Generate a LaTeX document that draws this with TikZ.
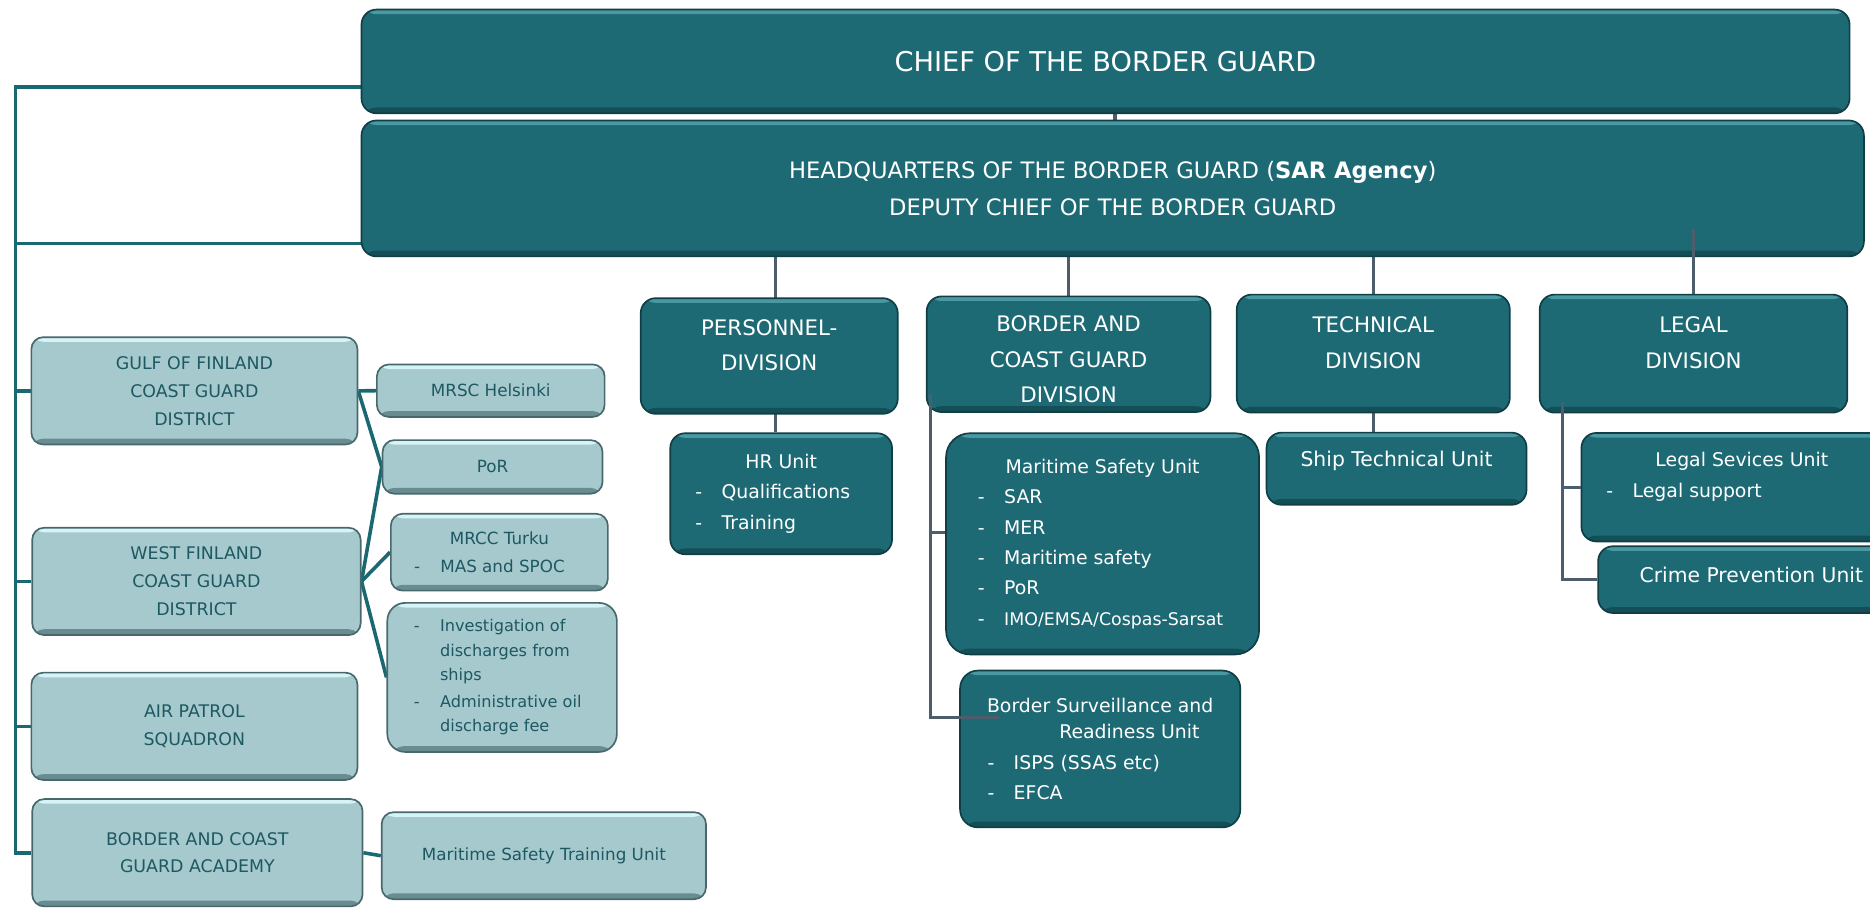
\documentclass[tikz,border=0pt]{standalone}
\usepackage{fontspec}
\setmainfont{DejaVu Sans}
\usepackage{xcolor}
\usepackage{tikz}
\usetikzlibrary{calc,backgrounds}

\definecolor{deepteal}{RGB}{29,106,117}
\definecolor{deepedge}{RGB}{16,62,69}
\definecolor{deeplight}{RGB}{74,152,162}
\definecolor{deepshade}{RGB}{20,78,86}
\definecolor{paleteal}{RGB}{165,201,205}
\definecolor{paleedge}{RGB}{72,104,109}
\definecolor{palelight}{RGB}{214,243,245}
\definecolor{paleshade}{RGB}{105,140,145}
\definecolor{inkteal}{RGB}{30,88,98}
\definecolor{linkteal}{RGB}{26,104,114}
\definecolor{linkslate}{RGB}{78,93,107}

% font sizes of the chart
\newcommand{\fchief}{\fontsize{13}{16}\selectfont}
\newcommand{\fhq}{\fontsize{10.8}{17.6}\selectfont}
\newcommand{\fdiv}{\fontsize{10.2}{17}\selectfont}
\newcommand{\funit}{\fontsize{9}{14.5}\selectfont}
\newcommand{\fship}{\fontsize{9.7}{14.5}\selectfont}
\newcommand{\fdist}{\fontsize{8.3}{13.3}\selectfont}
\newcommand{\fsub}{\fontsize{8}{13}\selectfont}
\newcommand{\fsmall}{\fontsize{7.7}{11.6}\selectfont}

% list lines inside the unit boxes
\newcommand{\dashitem}[2]{\makebox[#1][l]{\makebox[0.44cm][l]{-}#2}}
\newcommand{\moreitem}[2]{\makebox[#1][l]{\hspace{0.44cm}#2}}
% empty line that moves the text up or down in its box
\newcommand{\tailgap}[1]{\\[#1]\mbox{}}
\newcommand{\headgap}[1]{\mbox{}\\[#1]}

\tikzset{
  bevel/.style 2 args={path picture={
      \fill[#1] (path picture bounding box.north west) rectangle ([yshift=-2.2pt]path picture bounding box.north east);
      \fill[#2] (path picture bounding box.south west) rectangle ([yshift=2.8pt]path picture bounding box.south east);}},
  darkbox/.style={draw=deepedge, line width=0.8pt, fill=deepteal, rounded corners=0.25cm,
      bevel={deeplight}{deepshade}, text=white, align=center, inner sep=0pt},
  palebox/.style={draw=paleedge, line width=0.8pt, fill=paleteal, rounded corners=0.2cm,
      bevel={palelight}{paleshade}, text=inkteal, align=center, inner sep=0pt},
  spine/.style={draw=linkteal, line width=1.7pt},
  feed/.style={draw=linkslate, line width=1.6pt}
}

\begin{document}
\begin{tikzpicture}[x=0.02cm, y=-0.02cm]
    \useasboundingbox (0,0) rectangle (1568,762);
    \clip (0,0) rectangle (1568,762);

    % Chief and headquarters
    \node[darkbox, font=\fchief, minimum width=24.96cm, minimum height=1.74cm] (chief) at (927,51.5) {CHIEF OF THE BORDER GUARD};
    \node[darkbox, font=\fhq, minimum width=25.2cm, minimum height=2.28cm] (hq) at (933,158) {HEADQUARTERS OF THE BORDER GUARD (\textbf{SAR Agency})\\DEPUTY CHIEF OF THE BORDER GUARD};

    % Divisions
    \node[darkbox, font=\fdiv, minimum width=4.31cm, minimum height=1.94cm] (pers) at (645,298.5) {PERSONNEL-\\DIVISION\tailgap{-6.5pt}};
    \node[darkbox, font=\fdiv, minimum width=4.76cm, minimum height=1.94cm] (bcgd) at (896,297) {\headgap{-4.5pt}BORDER AND\\COAST GUARD\\DIVISION};
    \node[darkbox, font=\fdiv, minimum width=4.58cm, minimum height=1.98cm] (tech) at (1151.5,296.5) {TECHNICAL\\DIVISION\tailgap{-6.5pt}};
    \node[darkbox, font=\fdiv, minimum width=5.16cm, minimum height=1.98cm] (legal) at (1420,296.5) {LEGAL\\DIVISION\tailgap{-6.5pt}};

    % Units of the divisions
    \node[darkbox, font=\funit, minimum width=3.72cm, minimum height=2.03cm] (hr) at (655,414) {HR Unit\\\dashitem{2.88cm}{Qualifications}\\\dashitem{2.88cm}{Training}};
    \node[darkbox, font=\funit, rounded corners=0.4cm, minimum width=5.25cm, minimum height=3.71cm] (msu) at (924.5,456) {Maritime Safety Unit\\\dashitem{4.18cm}{SAR}\\\dashitem{4.18cm}{MER}\\\dashitem{4.18cm}{Maritime safety}\\\dashitem{4.18cm}{PoR}\\\dashitem{4.18cm}{\fontsize{8.3}{14.5}\selectfont IMO/EMSA/Cospas-Sarsat}};
    \node[darkbox, font=\funit, rounded corners=0.3cm, minimum width=4.7cm, minimum height=2.63cm] (bsr) at (922.5,628) {Border Surveillance and\\[-2pt]\hspace*{0.98cm}Readiness Unit\\\dashitem{3.78cm}{ISPS (SSAS etc)}\\\dashitem{3.78cm}{EFCA}};
    \node[darkbox, font=\fship, minimum width=4.36cm, minimum height=1.21cm] (ship) at (1171,393) {Ship Technical Unit\tailgap{-5.4pt}};
    \node[darkbox, font=\funit, minimum width=5.38cm, minimum height=1.82cm] (lsu) at (1460.5,408.5) {Legal Sevices Unit\\\dashitem{4.54cm}{Legal support}\tailgap{-2.8pt}};
    \node[darkbox, font=\fship, minimum width=5.14cm, minimum height=1.12cm] (crime) at (1468.5,486) {Crime Prevention Unit\tailgap{-10pt}};

    % Districts and their centres
    \node[palebox, font=\fdist, minimum width=5.47cm, minimum height=1.8cm] (gof) at (163,327.7) {GULF OF FINLAND\\COAST GUARD\\DISTRICT};
    \node[palebox, font=\fsub, minimum width=3.82cm, minimum height=0.88cm] (mrsc) at (411.5,327.6) {MRSC Helsinki};
    \node[palebox, font=\fsub, minimum width=3.69cm, minimum height=0.9cm] (por) at (413,391.5) {PoR};
    \node[palebox, font=\fdist, minimum width=5.51cm, minimum height=1.8cm] (wf) at (164.7,487.5) {WEST FINLAND\\COAST GUARD\\DISTRICT};
    \node[palebox, font=\fsub, minimum width=3.64cm, minimum height=1.29cm] (mrcc) at (418.7,463) {MRCC Turku\\\dashitem{2.86cm}{MAS and SPOC}};
    \node[palebox, font=\fsmall, rounded corners=0.3cm, minimum width=3.85cm, minimum height=2.5cm] (inv) at (421,568) {\dashitem{2.96cm}{Investigation of}\\\moreitem{2.96cm}{discharges from}\\\moreitem{2.96cm}{ships}\\[1.4pt]\dashitem{2.96cm}{Administrative oil}\\\moreitem{2.96cm}{discharge fee}};
    \node[palebox, font=\fdist, minimum width=5.47cm, minimum height=1.8cm] (air) at (163,609) {AIR PATROL\\SQUADRON};
    \node[palebox, font=\fdist, minimum width=5.54cm, minimum height=1.8cm] (acad) at (165.5,715) {BORDER AND COAST\\GUARD ACADEMY};
    \node[palebox, font=\fsub, minimum width=5.44cm, minimum height=1.46cm] (mstu) at (456,717.5) {Maritime Safety Training Unit};

    % Link points
    \coordinate (spinetop) at (13,73);
    \coordinate (hqlink) at (13,204);
    \coordinate (perslink) at (650,0);
    \coordinate (tick) at ([xshift=0.16cm]chief.south);
    \coordinate (bcgdroot) at (780,330);
    \coordinate (msulink) at ($(msu.west)+(0,-9.5)$);
    \coordinate (bsrlink) at ($(bsr.west)+(33,-26.4)$);
    \coordinate (legalroot) at (1310,337);
    \coordinate (lgtop) at ($(legal.north |- hq.south)+(0,-24)$);

    % Connectors behind the boxes
    \begin{scope}[on background layer]
        \draw[spine] (spinetop -| chief.west) -- (spinetop) |- (acad.west);
        \draw[spine] (hqlink) -- (hqlink -| hq.west);
        \draw[spine] (spinetop |- gof.west) -- (gof.west);
        \draw[spine] (spinetop |- wf.west) -- (wf.west);
        \draw[spine] (spinetop |- air.west) -- (air.west);
        \draw[spine] (gof.east) -- (mrsc.west);
        \draw[spine] (gof.east) -- (por.west);
        \draw[spine] (wf.east) -- (por.west);
        \draw[spine] (wf.east) -- (mrcc.west);
        \draw[spine] (wf.east) -- (inv.west);
        \draw[spine] (acad.east) -- (mstu.west);

        \draw[feed] (tick) -- (tick |- hq.north);
        \draw[feed] (perslink |- hq.south) -- (perslink |- hr.north);
        \draw[feed] (bcgd.north |- hq.south) -- (bcgd.north);
        \draw[feed] (tech.north |- hq.south) -- (tech.north);
        \draw[feed] (tech.south) -- (tech.south |- ship.north);
    \end{scope}

    % Connectors drawn over the boxes
    \draw[feed] (lgtop) -- (legal.north);
    \draw[feed] (bcgdroot) |- (bsrlink);
    \draw[feed] (bcgdroot |- msulink) -- (msulink);
    \draw[feed] (legalroot) |- (crime.west);
    \draw[feed] (legalroot |- lsu.west) -- (lsu.west);
\end{tikzpicture}
\end{document}
